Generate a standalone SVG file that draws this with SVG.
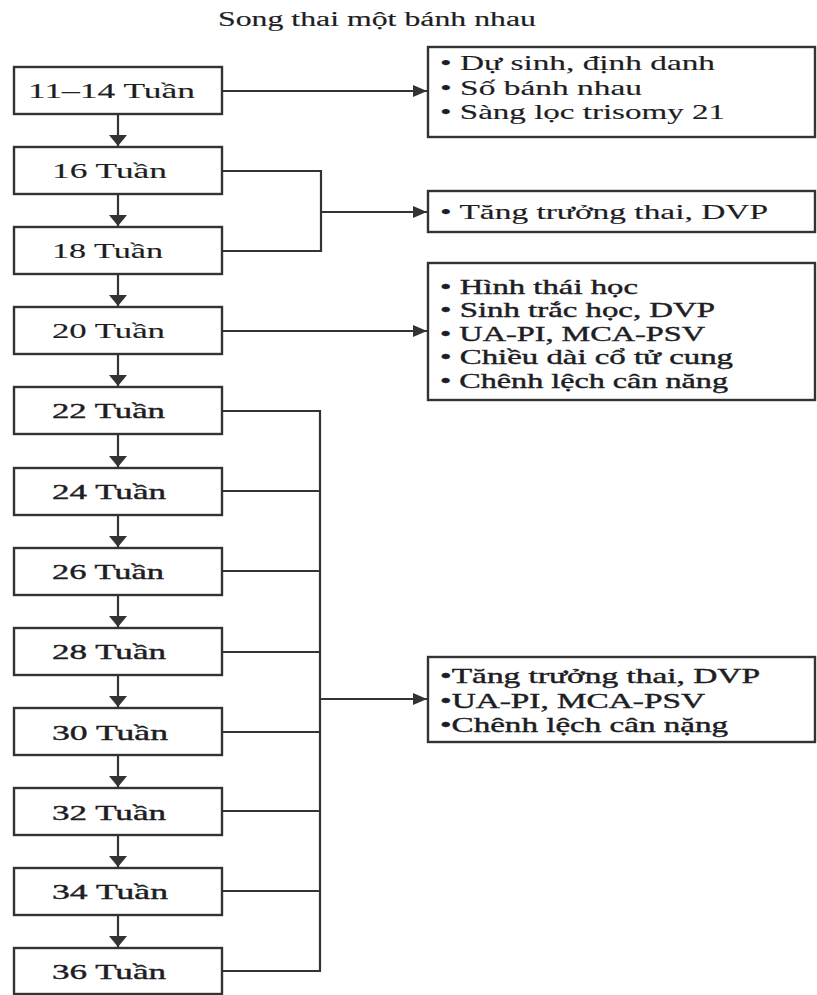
<svg xmlns="http://www.w3.org/2000/svg" width="817" height="995" viewBox="0 0 817 995">
<style>
  .box { fill: #ffffff; stroke: #333333; stroke-width: 2.4; }
  .lbl { font-family: "Liberation Serif", "Times New Roman", serif; font-size: 22px; fill: #1d1d24; stroke: #1d1d24; stroke-width: 0.15; }
  .ttl { font-family: "Liberation Serif", "Times New Roman", serif; font-size: 20px; fill: #1d1d24; stroke: #1d1d24; stroke-width: 0.15; }
  .itm { font-family: "Liberation Serif", "Times New Roman", serif; font-size: 21px; fill: #1d1d24; stroke: #1d1d24; stroke-width: 0.15; }
  .con { fill: none; stroke: #333333; stroke-width: 2.2; }
  text.hv { stroke: #1d1d24; stroke-width: 0.4; }
</style>
<defs>
  <marker id="arrV" markerUnits="userSpaceOnUse" markerWidth="12" markerHeight="18" refX="11" refY="9" orient="auto">
    <path d="M0,0 L11,9 L0,18 z" fill="#333333"/>
  </marker>
  <marker id="arrH" markerUnits="userSpaceOnUse" markerWidth="15" markerHeight="12" refX="14" refY="6" orient="auto">
    <path d="M0,0 L14,6 L0,12 z" fill="#333333"/>
  </marker>
</defs>
<rect width="817" height="995" fill="#ffffff"/>

<text id="title" class="ttl" x="218" y="26" textLength="318" lengthAdjust="spacingAndGlyphs">Song thai một bánh nhau</text>

<g id="connectors">
  <line class="con" x1="118" y1="114" x2="118" y2="146" marker-end="url(#arrV)"/>
  <line class="con" x1="118" y1="194" x2="118" y2="226" marker-end="url(#arrV)"/>
  <line class="con" x1="118" y1="274" x2="118" y2="306" marker-end="url(#arrV)"/>
  <line class="con" x1="118" y1="354" x2="118" y2="386" marker-end="url(#arrV)"/>
  <line class="con" x1="118" y1="434" x2="118" y2="467" marker-end="url(#arrV)"/>
  <line class="con" x1="118" y1="515" x2="118" y2="547" marker-end="url(#arrV)"/>
  <line class="con" x1="118" y1="595" x2="118" y2="627" marker-end="url(#arrV)"/>
  <line class="con" x1="118" y1="675" x2="118" y2="707" marker-end="url(#arrV)"/>
  <line class="con" x1="118" y1="755" x2="118" y2="787" marker-end="url(#arrV)"/>
  <line class="con" x1="118" y1="835" x2="118" y2="867" marker-end="url(#arrV)"/>
  <line class="con" x1="118" y1="915" x2="118" y2="947" marker-end="url(#arrV)"/>

  <line class="con" x1="222" y1="91" x2="427" y2="91" marker-end="url(#arrH)"/>

  <polyline class="con" points="222,171 321,171 321,251 222,251"/>
  <line class="con" x1="321" y1="212" x2="427" y2="212" marker-end="url(#arrH)"/>

  <line class="con" x1="222" y1="331" x2="427" y2="331" marker-end="url(#arrH)"/>

  <polyline class="con" points="222,411 320,411 320,971 222,971"/>
  <line class="con" x1="222" y1="491" x2="320" y2="491"/>
  <line class="con" x1="222" y1="571" x2="320" y2="571"/>
  <line class="con" x1="222" y1="652" x2="320" y2="652"/>
  <line class="con" x1="222" y1="732" x2="320" y2="732"/>
  <line class="con" x1="222" y1="811" x2="320" y2="811"/>
  <line class="con" x1="222" y1="891" x2="320" y2="891"/>
  <line class="con" x1="320" y1="699" x2="427" y2="699" marker-end="url(#arrH)"/>
</g>

<g id="w11-14">
  <rect class="box" x="14" y="67" width="208" height="47"/>
  <text class="lbl" x="28" y="98" textLength="167" lengthAdjust="spacingAndGlyphs">11–14 Tuần</text>
</g>
<g id="w16">
  <rect class="box" x="14" y="147" width="208" height="47"/>
  <text class="lbl" x="52" y="178" textLength="115" lengthAdjust="spacingAndGlyphs">16 Tuần</text>
</g>
<g id="w18">
  <rect class="box" x="14" y="227" width="208" height="47"/>
  <text class="lbl" x="52" y="258" textLength="111" lengthAdjust="spacingAndGlyphs">18 Tuần</text>
</g>
<g id="w20">
  <rect class="box" x="14" y="307" width="208" height="47"/>
  <text class="lbl" x="52" y="338" textLength="113" lengthAdjust="spacingAndGlyphs">20 Tuần</text>
</g>
<g id="w22">
  <rect class="box" x="14" y="387" width="208" height="47"/>
  <text class="lbl hv" x="52" y="418" textLength="113" lengthAdjust="spacingAndGlyphs">22 Tuần</text>
</g>
<g id="w24">
  <rect class="box" x="14" y="468" width="208" height="47"/>
  <text class="lbl hv" x="52" y="499" textLength="114" lengthAdjust="spacingAndGlyphs">24 Tuần</text>
</g>
<g id="w26">
  <rect class="box" x="14" y="548" width="208" height="47"/>
  <text class="lbl hv" x="52" y="579" textLength="112" lengthAdjust="spacingAndGlyphs">26 Tuần</text>
</g>
<g id="w28">
  <rect class="box" x="14" y="628" width="208" height="47"/>
  <text class="lbl hv" x="52" y="659" textLength="114" lengthAdjust="spacingAndGlyphs">28 Tuần</text>
</g>
<g id="w30">
  <rect class="box" x="14" y="708" width="208" height="47"/>
  <text class="lbl hv" x="52" y="740" textLength="116" lengthAdjust="spacingAndGlyphs">30 Tuần</text>
</g>
<g id="w32">
  <rect class="box" x="14" y="788" width="208" height="47"/>
  <text class="lbl hv" x="52" y="820" textLength="114" lengthAdjust="spacingAndGlyphs">32 Tuần</text>
</g>
<g id="w34">
  <rect class="box" x="14" y="868" width="208" height="47"/>
  <text class="lbl hv" x="52" y="899" textLength="116" lengthAdjust="spacingAndGlyphs">34 Tuần</text>
</g>
<g id="w36">
  <rect class="box" x="14" y="948" width="208" height="46"/>
  <text class="lbl hv" x="52" y="979" textLength="114" lengthAdjust="spacingAndGlyphs">36 Tuần</text>
</g>

<g id="info-1">
  <rect class="box" x="428" y="47" width="387" height="90"/>
  <text class="itm" x="440" y="70" textLength="275" lengthAdjust="spacingAndGlyphs">• Dự sinh, định danh</text>
  <text class="itm" x="440" y="95" textLength="202" lengthAdjust="spacingAndGlyphs">• Số bánh nhau</text>
  <text class="itm" x="440" y="119" textLength="285" lengthAdjust="spacingAndGlyphs">• Sàng lọc trisomy 21</text>
</g>
<g id="info-2">
  <rect class="box" x="428" y="191" width="387" height="41"/>
  <text class="itm" x="440" y="219" textLength="328" lengthAdjust="spacingAndGlyphs">• Tăng trưởng thai, DVP</text>
</g>
<g id="info-3">
  <rect class="box" x="428" y="263" width="387" height="137"/>
  <text class="itm hv" x="440" y="294" textLength="198" lengthAdjust="spacingAndGlyphs">• Hình thái học</text>
  <text class="itm hv" x="440" y="317" textLength="275" lengthAdjust="spacingAndGlyphs">• Sinh trắc học, DVP</text>
  <text class="itm hv" x="440" y="341" textLength="265" lengthAdjust="spacingAndGlyphs">• UA-PI, MCA-PSV</text>
  <text class="itm hv" x="440" y="364" textLength="293" lengthAdjust="spacingAndGlyphs">• Chiều dài cổ tử cung</text>
  <text class="itm hv" x="440" y="388" textLength="288" lengthAdjust="spacingAndGlyphs">• Chênh lệch cân năng</text>
</g>
<g id="info-4">
  <rect class="box" x="428" y="657" width="387" height="85"/>
  <text class="itm hv" x="440" y="683" textLength="320" lengthAdjust="spacingAndGlyphs">•Tăng trưởng thai, DVP</text>
  <text class="itm hv" x="440" y="708" textLength="265" lengthAdjust="spacingAndGlyphs">•UA-PI, MCA-PSV</text>
  <text class="itm hv" x="440" y="732" textLength="288" lengthAdjust="spacingAndGlyphs">•Chênh lệch cân nặng</text>
</g>
</svg>
